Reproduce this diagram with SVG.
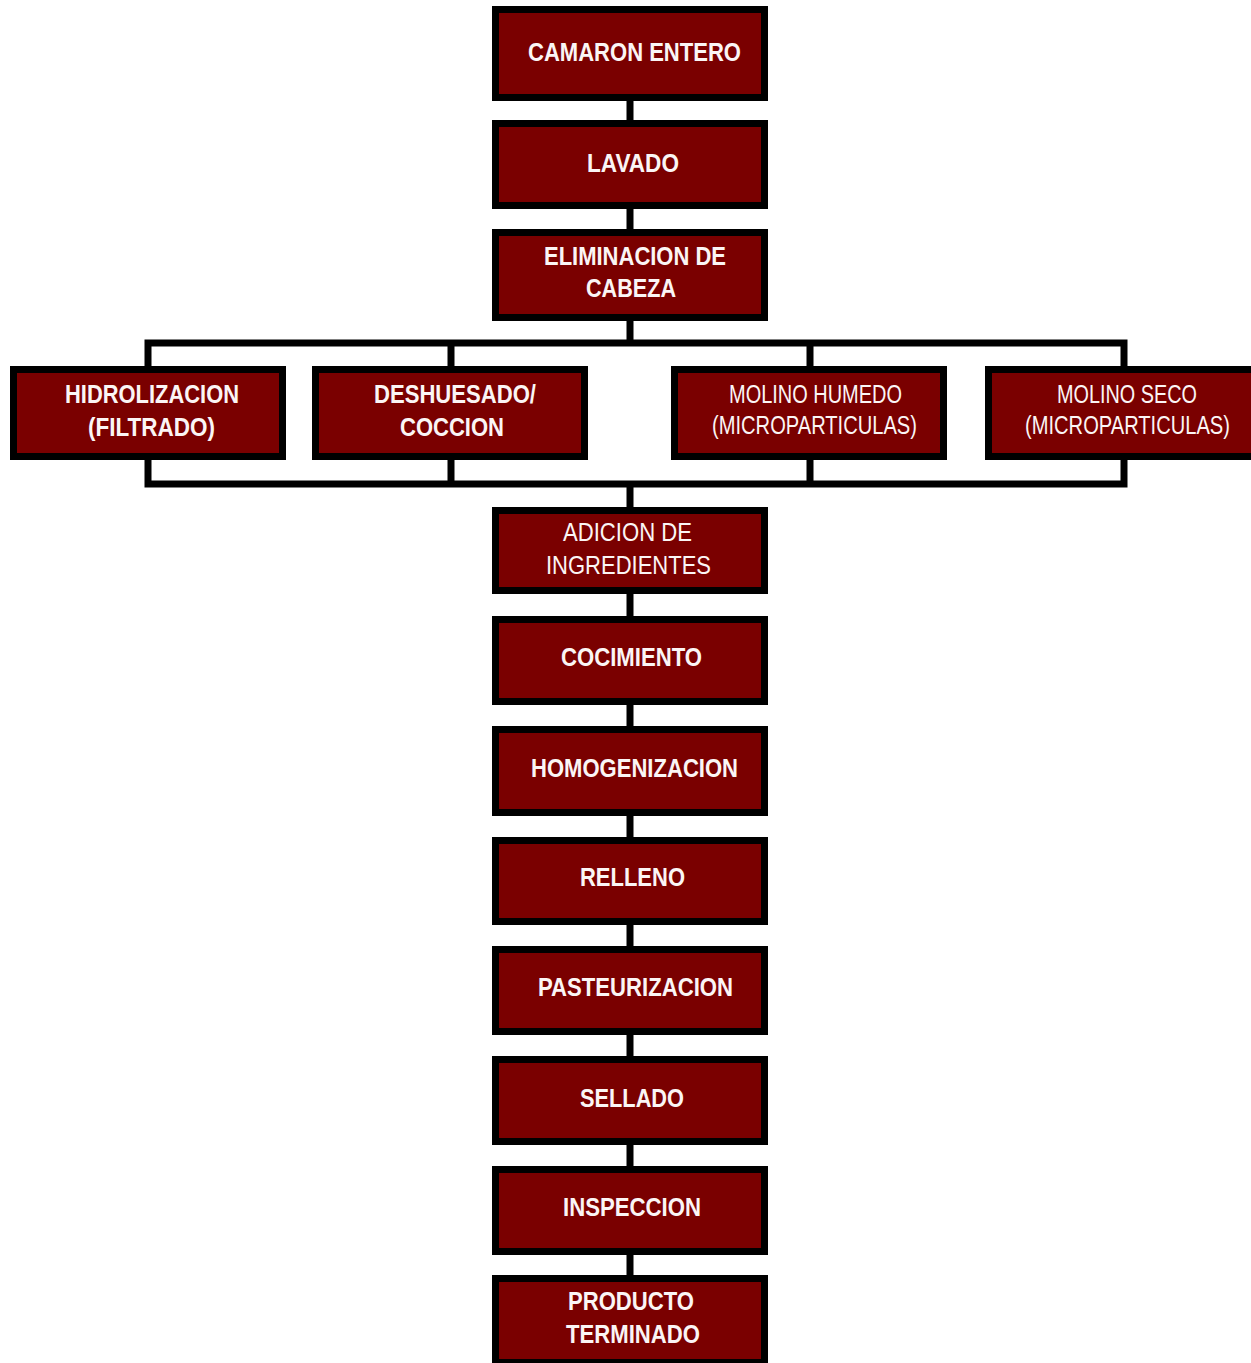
<svg xmlns="http://www.w3.org/2000/svg" width="1251" height="1363" viewBox="0 0 1251 1363">
  <style>
    .box { fill: #7a0000; stroke: #000; stroke-width: 7; }
    .lbl { fill: #fbf5f5; font-family: "Liberation Sans", Arial, sans-serif; font-size: 25px; font-weight: bold; }
    .reg { font-weight: normal; }
    .wire { fill: none; stroke: #000; stroke-width: 7; stroke-linejoin: miter; stroke-linecap: butt; }
  </style>
  <rect width="1251" height="1363" fill="#fff"/>

  <!-- connectors -->
  <g id="connectors">
    <path class="wire" d="M630 101 V120 M630 209 V229 M630 321 V343"/>
    <path class="wire" d="M148 366 V343 H1124 V366 M451 343 V366 M810 343 V366"/>
    <path class="wire" d="M148 460 V484 H1124 V460 M451 460 V484 M810 460 V484"/>
    <path class="wire" d="M630 484 V507 M630 594 V616 M630 705 V726 M630 816 V837 M630 925 V946 M630 1035 V1056 M630 1145 V1166 M630 1255 V1275"/>
  </g>

  <g id="camaron-entero">
    <rect class="box" x="495.5" y="9.5" width="269" height="88"/>
    <text class="lbl" x="528" y="61" textLength="213" lengthAdjust="spacingAndGlyphs">CAMARON ENTERO</text>
  </g>
  <g id="lavado">
    <rect class="box" x="495.5" y="123.5" width="269" height="82"/>
    <text class="lbl" x="587" y="172" textLength="92" lengthAdjust="spacingAndGlyphs">LAVADO</text>
  </g>
  <g id="eliminacion-cabeza">
    <rect class="box" x="495.5" y="232.5" width="269" height="85"/>
    <text class="lbl" x="544" y="265" textLength="182" lengthAdjust="spacingAndGlyphs">ELIMINACION DE</text>
    <text class="lbl" x="586" y="297" textLength="90" lengthAdjust="spacingAndGlyphs">CABEZA</text>
  </g>

  <g id="hidrolizacion">
    <rect class="box" x="13.5" y="369.5" width="269" height="87"/>
    <text class="lbl" x="65" y="403" textLength="174" lengthAdjust="spacingAndGlyphs">HIDROLIZACION</text>
    <text class="lbl" x="88" y="436" textLength="127" lengthAdjust="spacingAndGlyphs">(FILTRADO)</text>
  </g>
  <g id="deshuesado-coccion">
    <rect class="box" x="315.5" y="369.5" width="269" height="87"/>
    <text class="lbl" x="374" y="403" textLength="162" lengthAdjust="spacingAndGlyphs">DESHUESADO/</text>
    <text class="lbl" x="400" y="436" textLength="104" lengthAdjust="spacingAndGlyphs">COCCION</text>
  </g>
  <g id="molino-humedo">
    <rect class="box" x="674.5" y="369.5" width="269" height="87"/>
    <text class="lbl reg" x="729" y="403" textLength="173" lengthAdjust="spacingAndGlyphs">MOLINO HUMEDO</text>
    <text class="lbl reg" x="712" y="434" textLength="205" lengthAdjust="spacingAndGlyphs">(MICROPARTICULAS)</text>
  </g>
  <g id="molino-seco">
    <rect class="box" x="988.5" y="369.5" width="269" height="87"/>
    <text class="lbl reg" x="1057" y="403" textLength="140" lengthAdjust="spacingAndGlyphs">MOLINO SECO</text>
    <text class="lbl reg" x="1025" y="434" textLength="205" lengthAdjust="spacingAndGlyphs">(MICROPARTICULAS)</text>
  </g>

  <g id="adicion-ingredientes">
    <rect class="box" x="495.5" y="510.5" width="269" height="80"/>
    <text class="lbl reg" x="563" y="541" textLength="129" lengthAdjust="spacingAndGlyphs">ADICION DE</text>
    <text class="lbl reg" x="546" y="574" textLength="165" lengthAdjust="spacingAndGlyphs">INGREDIENTES</text>
  </g>
  <g id="cocimiento">
    <rect class="box" x="495.5" y="619.5" width="269" height="82"/>
    <text class="lbl" x="561" y="666" textLength="141" lengthAdjust="spacingAndGlyphs">COCIMIENTO</text>
  </g>
  <g id="homogenizacion">
    <rect class="box" x="495.5" y="729.5" width="269" height="83"/>
    <text class="lbl" x="531" y="777" textLength="207" lengthAdjust="spacingAndGlyphs">HOMOGENIZACION</text>
  </g>
  <g id="relleno">
    <rect class="box" x="495.5" y="840.5" width="269" height="81"/>
    <text class="lbl" x="580" y="886" textLength="105" lengthAdjust="spacingAndGlyphs">RELLENO</text>
  </g>
  <g id="pasteurizacion">
    <rect class="box" x="495.5" y="949.5" width="269" height="82"/>
    <text class="lbl" x="538" y="996" textLength="195" lengthAdjust="spacingAndGlyphs">PASTEURIZACION</text>
  </g>
  <g id="sellado">
    <rect class="box" x="495.5" y="1059.5" width="269" height="82"/>
    <text class="lbl" x="580" y="1107" textLength="104" lengthAdjust="spacingAndGlyphs">SELLADO</text>
  </g>
  <g id="inspeccion">
    <rect class="box" x="495.5" y="1169.5" width="269" height="82"/>
    <text class="lbl" x="563" y="1216" textLength="138" lengthAdjust="spacingAndGlyphs">INSPECCION</text>
  </g>
  <g id="producto-terminado">
    <rect class="box" x="495.5" y="1278.5" width="269" height="84"/>
    <text class="lbl" x="568" y="1310" textLength="126" lengthAdjust="spacingAndGlyphs">PRODUCTO</text>
    <text class="lbl" x="566" y="1343" textLength="134" lengthAdjust="spacingAndGlyphs">TERMINADO</text>
  </g>
</svg>
